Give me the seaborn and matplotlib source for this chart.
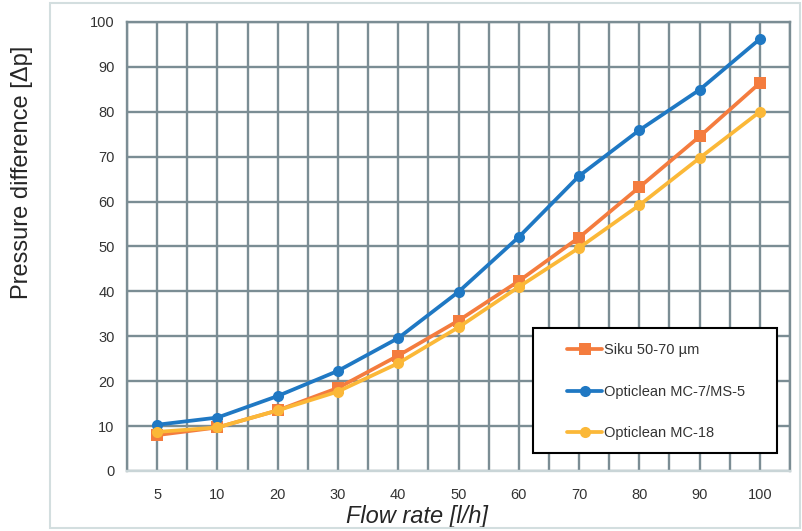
#importing libraries
import pandas as pd
import matplotlib.pyplot as plt
import seaborn as sns
from matplotlib.patches import Rectangle
from matplotlib.ticker import FixedLocator

#chart data
flow_rate = ["5", "10", "20", "30", "40", "50", "60", "70", "80", "90", "100"]
siku = [8.0, 9.7, 13.5, 18.5, 25.7, 33.5, 42.3, 52.0, 63.2, 74.5, 86.4]
mc7 = [10.3, 11.9, 16.7, 22.3, 29.6, 39.9, 52.1, 65.7, 75.9, 84.9, 96.2]
mc18 = [8.7, 9.7, 13.5, 17.7, 24.0, 32.0, 41.0, 49.7, 59.2, 69.7, 80.0]
series_names = ["Siku 50-70 µm", "Opticlean MC-7/MS-5", "Opticlean MC-18"]

#long table for seaborn
rows = []
for name, vals in zip(series_names, [siku, mc7, mc18]):
    for i, v in enumerate(vals):
        rows.append({"pos": i, "flow": flow_rate[i], "dp": v, "series": name})
df = pd.DataFrame(rows)

sns.set_style("white")
plt.rcParams["font.family"] = ["Liberation Sans", "DejaVu Sans"]

grid_col = "#7b8d94"
colors = {"Siku 50-70 µm": "#f47c3e", "Opticlean MC-7/MS-5": "#1f78c3", "Opticlean MC-18": "#fbb838"}
markers = {"Siku 50-70 µm": "s", "Opticlean MC-7/MS-5": "o", "Opticlean MC-18": "o"}

fig = plt.figure(figsize=(8.02, 5.31), dpi=100)
ax = fig.add_axes([0.1584, 0.1130, 0.8266, 0.8456])

sns.lineplot(data=df, x="pos", y="dp", hue="series", style="series",
             hue_order=series_names, style_order=series_names,
             palette=colors, markers=markers, dashes=False,
             linewidth=2.7, markersize=8, markeredgewidth=0, ax=ax)

#grid
ax.set_xlim(-0.5, 10.5)
ax.set_ylim(0, 100)
ax.set_xticks(range(len(flow_rate)))
ax.set_xticklabels(flow_rate)
ax.xaxis.set_minor_locator(FixedLocator([i + 0.5 for i in range(-1, 11)]))
ax.set_yticks(range(0, 101, 10))
ax.grid(True, which="major", axis="both", color=grid_col, linewidth=1.7)
ax.grid(True, which="minor", axis="x", color=grid_col, linewidth=1.7)
ax.set_axisbelow(True)
ax.tick_params(which="both", length=0)
ax.tick_params(axis="y", pad=9, labelsize=10.5, labelcolor="#333333")
ax.tick_params(axis="x", pad=12, labelsize=10.5, labelcolor="#333333")
for s in ["top", "left", "right"]:
    ax.spines[s].set_color(grid_col)
    ax.spines[s].set_linewidth(1.7)
ax.spines["bottom"].set_color("#c9d5d7")
ax.spines["bottom"].set_linewidth(1.7)

#labels
ax.set_xlabel("Flow rate [l/h]", fontsize=17, style="italic")
ax.xaxis.set_label_coords(0.438, -0.076)
ax.set_ylabel("Pressure difference [Δp]", fontsize=17)
ax.yaxis.set_label_coords(-0.142, 0.666)

#legend box drawn separately, legend itself without frame
ax.add_patch(Rectangle((0.612, 0.04), 0.368, 0.278, transform=ax.transAxes,
                       facecolor="white", edgecolor="black", linewidth=1.5, zorder=4))
leg = ax.legend(loc="upper left", bbox_to_anchor=(0.664, 0.285),
                fontsize=10.5, frameon=False, handlelength=2.4,
                handletextpad=0.15, labelspacing=1.9, borderpad=0,
                borderaxespad=0)
leg.set_zorder(5)
for t in leg.get_texts():
    t.set_color("#333333")

#light frame round the chart
fig.patches.append(Rectangle((0.0623, 0.0056), 0.935, 0.9887, transform=fig.transFigure,
                             fill=False, edgecolor="#d3dedf", linewidth=1.5))

plt.savefig("out.png", dpi=100)
